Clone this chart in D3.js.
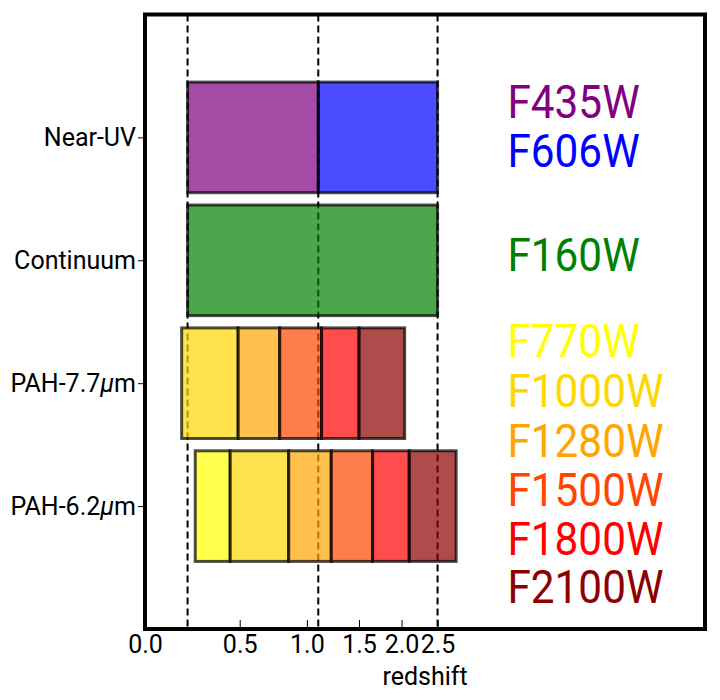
<!DOCTYPE html>
<html>
<head>
<meta charset="utf-8">
<script src="https://cdn.jsdelivr.net/npm/d3@7"></script>
<style>
  body { margin: 0; background: #fff; }
  text { font-family: Roboto, "Liberation Sans", sans-serif; }
</style>
</head>
<body>
<div id="chart"></div>
<script>
// Rows (top to bottom) and their tick position
const rows = ['Near-UV', 'Continuum', 'PAH-7.7μm', 'PAH-6.2μm'];
const rowY = [4, 3, 2, 1];

// Redshift edges of each filter segment per row
const nearUVEdges = [0.2, 1.1, 2.5];
const nearUVFilters = ['F435W', 'F606W'];
const continuumEdges = [0.2, 2.5];
const continuumFilters = ['F160W'];
const pah77Edges = [0.17, 0.49, 0.78, 1.13, 1.50, 2.04];
const pah77Filters = ['F1000W', 'F1280W', 'F1500W', 'F1800W', 'F2100W'];
const pah62Edges = [0.24, 0.44, 0.85, 1.22, 1.65, 2.10, 2.79];
const pah62Filters = ['F770W', 'F1000W', 'F1280W', 'F1500W', 'F1800W', 'F2100W'];

// Filter legend / colours
const filters = ['F435W', 'F606W', 'F160W', 'F770W', 'F1000W', 'F1280W', 'F1500W', 'F1800W', 'F2100W'];
const filterColors = ['#800080', '#0000ff', '#008000', '#ffff00', '#ffd700', '#ffa500', '#ff4500', '#ff0000', '#8b0000'];

// vertical dashed lines and x ticks (redshift)
const dashedZ = [0.2, 1.1, 2.5];
const xTicks = [0.0, 0.5, 1.0, 1.5, 2.0, 2.5];

// layout of the filter text column (data coords, baselines)
const labelZ = 3.72;
const labelRowY = [4.16, 3.76, 2.91, 2.21, 1.81, 1.40, 1.00, 0.60, 0.21];

const width = 720, height = 700;
const margin = { top: 14.5, right: 15, bottom: 71, left: 145 };
const barHeight = 0.9;

const svg = d3.select('#chart').append('svg')
  .attr('width', width)
  .attr('height', height);

svg.append('rect').attr('width', width).attr('height', height).attr('fill', '#fff');

// x axis is log(1+z)
const x = d3.scaleLog().domain([1, 11]).range([margin.left, width - margin.right]);
const xz = z => x(1 + z);
const y = d3.scaleLinear().domain([0, 5]).range([height - margin.bottom, margin.top]);

const colorOf = d3.scaleOrdinal().domain(filters).range(filterColors);

// Dashed lines (behind the bars)
svg.append('g')
  .selectAll('line')
  .data(dashedZ)
  .join('line')
  .attr('x1', d => xz(d))
  .attr('x2', d => xz(d))
  .attr('y1', y(5))
  .attr('y2', y(0))
  .attr('stroke', '#000')
  .attr('stroke-width', 2)
  .attr('stroke-dasharray', '7,4');

// Build segments
const rowEdges = [nearUVEdges, continuumEdges, pah77Edges, pah62Edges];
const rowFilters = [nearUVFilters, continuumFilters, pah77Filters, pah62Filters];
const segments = [];
rowEdges.forEach((edges, i) => {
  rowFilters[i].forEach((f, j) => {
    segments.push({ row: rowY[i], z0: edges[j], z1: edges[j + 1], filter: f });
  });
});

svg.append('g')
  .selectAll('rect')
  .data(segments)
  .join('rect')
  .attr('x', d => xz(d.z0))
  .attr('width', d => xz(d.z1) - xz(d.z0))
  .attr('y', d => y(d.row + barHeight / 2))
  .attr('height', d => y(d.row - barHeight / 2) - y(d.row + barHeight / 2))
  .attr('fill', d => colorOf(d.filter))
  .attr('fill-opacity', 0.7)
  .attr('stroke', '#000')
  .attr('stroke-opacity', 0.7)
  .attr('stroke-width', 3);

// Filter labels (narrowed a bit to mimic the computer-modern sans widths)
svg.append('g')
  .selectAll('text')
  .data(filters)
  .join('text')
  .attr('transform', (d, i) => `translate(${xz(labelZ)},${y(labelRowY[i])}) scale(0.92,1)`)
  .attr('fill', (d, i) => filterColors[i])
  .style('font-size', '46px')
  .text(d => d);

// X axis
const xAxis = svg.append('g')
  .attr('transform', `translate(0,${y(0)})`)
  .call(d3.axisBottom(x)
    .tickValues(xTicks.map(z => 1 + z))
    .tickFormat(d => d3.format('.1f')(d - 1))
    .tickSizeInner(-9)
    .tickSizeOuter(0)
    .tickPadding(6));
xAxis.select('.domain').remove();
xAxis.selectAll('line').attr('stroke', '#000').attr('stroke-width', 1);
xAxis.selectAll('text')
  .attr('fill', '#000')
  .style('font-size', '25px')
  .style('font-family', 'Roboto, sans-serif');

// Y axis
const yAxis = svg.append('g')
  .attr('transform', `translate(${margin.left},0)`)
  .call(d3.axisLeft(y)
    .tickValues(rowY)
    .tickFormat((d, i) => rows[i])
    .tickSizeInner(7)
    .tickSizeOuter(0)
    .tickPadding(2));
yAxis.select('.domain').remove();
yAxis.selectAll('line').attr('stroke', '#000').attr('stroke-width', 1);
yAxis.selectAll('text')
  .attr('fill', '#000')
  .style('font-size', '25px')
  .style('font-family', 'Roboto, sans-serif')
  .each(function (d, i) {
    const label = rows[i];
    const t = d3.select(this);
    const k = label.indexOf('μ');
    if (k < 0) return;
    t.text(null);
    t.append('tspan').text(label.slice(0, k));
    t.append('tspan').style('font-style', 'italic').text('μ');
    t.append('tspan').text(label.slice(k + 1));
  });

// x label
svg.append('text')
  .attr('x', (margin.left + width - margin.right) / 2)
  .attr('y', 685)
  .attr('text-anchor', 'middle')
  .style('font-size', '25px')
  .text('redshift');

// Frame
svg.append('rect')
  .attr('x', margin.left)
  .attr('y', margin.top)
  .attr('width', width - margin.left - margin.right)
  .attr('height', height - margin.top - margin.bottom)
  .attr('fill', 'none')
  .attr('stroke', '#000')
  .attr('stroke-width', 4);
</script>
</body>
</html>
